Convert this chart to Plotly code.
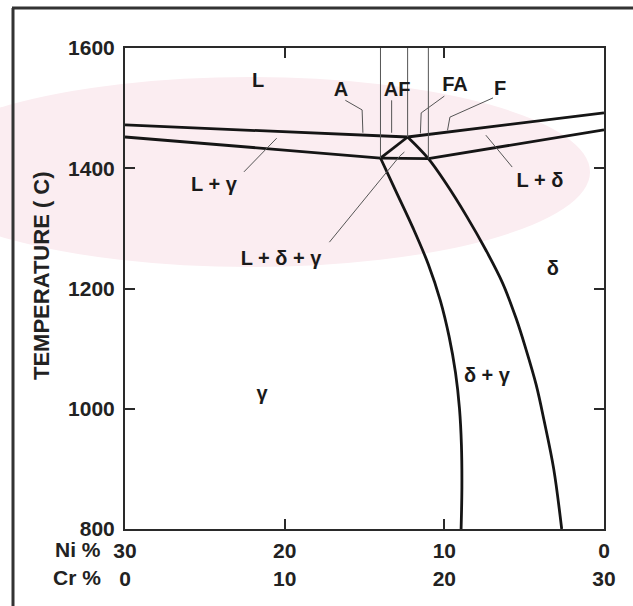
import plotly.graph_objects as go

# ---- data (Cr %, temperature in C) ----
liq_gamma_cr = [0, 17.7]
liq_gamma_t = [1472, 1452]
liq_delta_cr = [17.7, 30]
liq_delta_t = [1452, 1492]
sol_gamma_cr = [0, 16.0]
sol_gamma_t = [1452, 1417]
sol_delta_cr = [19.0, 30]
sol_delta_t = [1416, 1464]
tri_left_cr = [16.0, 17.7]
tri_left_t = [1417, 1452]
tri_base_cr = [16.0, 19.0]
tri_base_t = [1417, 1416]
solvus_gamma_cr = [16.0, 17.0, 18.05, 19.0, 19.75, 20.3, 20.7, 20.95, 21.07, 21.1, 21.05]
solvus_gamma_t = [1417, 1360, 1300, 1240, 1180, 1120, 1060, 1000, 940, 870, 800]
solvus_delta_cr = [17.7, 19.0, 20.1, 21.4, 22.6, 23.65, 24.5, 25.1, 25.75, 26.25, 26.85, 27.35]
solvus_delta_t = [1452, 1416, 1375, 1320, 1264, 1209, 1150, 1100, 1040, 980, 900, 800]

# vertical mode boundaries (A | AF | FA | F)
mode_cr = [16.0, 17.7, 19.0]
mode_t0 = [1417, 1452, 1416]

# leader lines for labels
lead_A_cr = [13.8, 14.85, 14.9]
lead_A_t = [1513, 1497, 1459]
lead_AF_cr = [16.7, 16.7]
lead_AF_t = [1513, 1459]
lead_FA_cr = [20.0, 18.55, 18.5]
lead_FA_t = [1520, 1492, 1458]
lead_F_cr = [23.05, 20.35, 20.2]
lead_F_t = [1517, 1485, 1463]
lead_Lg_cr = [7.45, 9.5]
lead_Lg_t = [1394, 1450]
lead_Ld_cr = [24.25, 22.6]
lead_Ld_t = [1402, 1455]
lead_Ldg_cr = [12.8, 17.2, 17.5]
lead_Ldg_t = [1277, 1420, 1427]

# region labels
label_text = ["L", "A", "AF", "FA", "F", "L + γ", "L + δ", "L + δ + γ", "δ", "γ", "δ + γ"]
label_cr = [8.33, 13.53, 17.04, 20.67, 23.49, 5.57, 25.99, 9.77, 26.8, 8.58, 22.67]
label_t = [1543, 1528, 1528, 1537, 1530, 1370, 1377, 1247, 1231, 1023, 1053]

# axis ticks
t_ticks = [800, 1000, 1200, 1400, 1600]
cr_ticks = [0, 10, 20, 30]
ni_labels = ["30", "20", "10", "0"]
cr_labels = ["0", "10", "20", "30"]

W, H = 633, 606
L_M, R_M, T_M, B_M = 125, 29, 48, 77
PW, PH = W - L_M - R_M, H - T_M - B_M


def px(x):
    return (x - L_M) / PW


def py(y):
    return (H - B_M - y) / PH


fig = go.Figure()

thick = dict(color="#151515", width=2.8)
thin = dict(color="#555555", width=1)

for xs, ys in [(liq_gamma_cr, liq_gamma_t), (liq_delta_cr, liq_delta_t),
               (sol_gamma_cr, sol_gamma_t), (sol_delta_cr, sol_delta_t),
               (tri_left_cr, tri_left_t), (tri_base_cr, tri_base_t)]:
    fig.add_trace(go.Scatter(x=xs, y=ys, mode="lines", line=thick,
                             hoverinfo="skip", showlegend=False))
for xs, ys in [(solvus_gamma_cr, solvus_gamma_t), (solvus_delta_cr, solvus_delta_t)]:
    fig.add_trace(go.Scatter(x=xs, y=ys, mode="lines",
                             line=dict(color="#151515", width=2.8, shape="spline", smoothing=1.0),
                             hoverinfo="skip", showlegend=False))

for c, t0 in zip(mode_cr, mode_t0):
    fig.add_trace(go.Scatter(x=[c, c], y=[t0, 1600], mode="lines", line=thin,
                             hoverinfo="skip", showlegend=False))

for xs, ys in [(lead_A_cr, lead_A_t), (lead_AF_cr, lead_AF_t), (lead_FA_cr, lead_FA_t),
               (lead_F_cr, lead_F_t), (lead_Lg_cr, lead_Lg_t), (lead_Ld_cr, lead_Ld_t),
               (lead_Ldg_cr, lead_Ldg_t)]:
    fig.add_trace(go.Scatter(x=xs, y=ys, mode="lines", line=thin,
                             hoverinfo="skip", showlegend=False))

fig.add_trace(go.Scatter(x=label_cr, y=label_t, mode="text", text=label_text,
                         textfont=dict(family="Liberation Sans", size=20, color="#1a1a1a", weight="bold"),
                         hoverinfo="skip", showlegend=False))

axis_font = dict(family="Liberation Sans", size=21, color="#222222", weight="bold")

fig.update_xaxes(range=[0, 30], tickvals=cr_ticks,
                 ticktext=[f"{n}<br>{c}" for n, c in zip(ni_labels, cr_labels)],
                 showline=True, linecolor="#2a2a2a", linewidth=2, mirror="allticks",
                 ticks="inside", ticklen=10, tickwidth=1.5, tickcolor="#2a2a2a",
                 showgrid=False, zeroline=False, tickfont=axis_font, ticklabelstandoff=2)
fig.update_yaxes(range=[800, 1600], tickvals=t_ticks,
                 showline=True, linecolor="#2a2a2a", linewidth=2, mirror="allticks",
                 ticks="inside", ticklen=10, tickwidth=1.5, tickcolor="#2a2a2a",
                 showgrid=False, zeroline=False, tickfont=axis_font, ticklabelstandoff=4)

shapes = [
    # faint pink watermark ellipse
    dict(type="circle", xref="paper", yref="paper", layer="below",
         x0=px(-90), x1=px(590), y0=py(267), y1=py(77),
         fillcolor="#fbedf1", line=dict(width=0)),
    # outer frame (left and top)
    dict(type="line", xref="paper", yref="paper", x0=px(13), x1=px(13),
         y0=py(8), y1=py(610), line=dict(color="#333333", width=3)),
    dict(type="line", xref="paper", yref="paper", x0=px(12), x1=px(640),
         y0=py(8), y1=py(8), line=dict(color="#333333", width=3)),
]

annotations = [
    dict(text="TEMPERATURE ( C)", xref="paper", yref="paper", x=px(41), y=py(276),
         xanchor="center", yanchor="middle",
         textangle=-90, showarrow=False, font=dict(family="Liberation Sans", size=22,
                                                   color="#222222", weight="bold")),
    dict(text="Ni %", xref="paper", yref="paper", x=px(103), y=py(549), xanchor="right",
         yanchor="middle", showarrow=False, font=axis_font),
    dict(text="Cr %", xref="paper", yref="paper", x=px(103), y=py(577), xanchor="right",
         yanchor="middle", showarrow=False, font=axis_font),
]

fig.update_layout(width=W, height=H, margin=dict(l=L_M, r=R_M, t=T_M, b=B_M),
                  paper_bgcolor="white", plot_bgcolor="rgba(0,0,0,0)",
                  shapes=shapes, annotations=annotations, showlegend=False)

fig.write_html("out.html")
